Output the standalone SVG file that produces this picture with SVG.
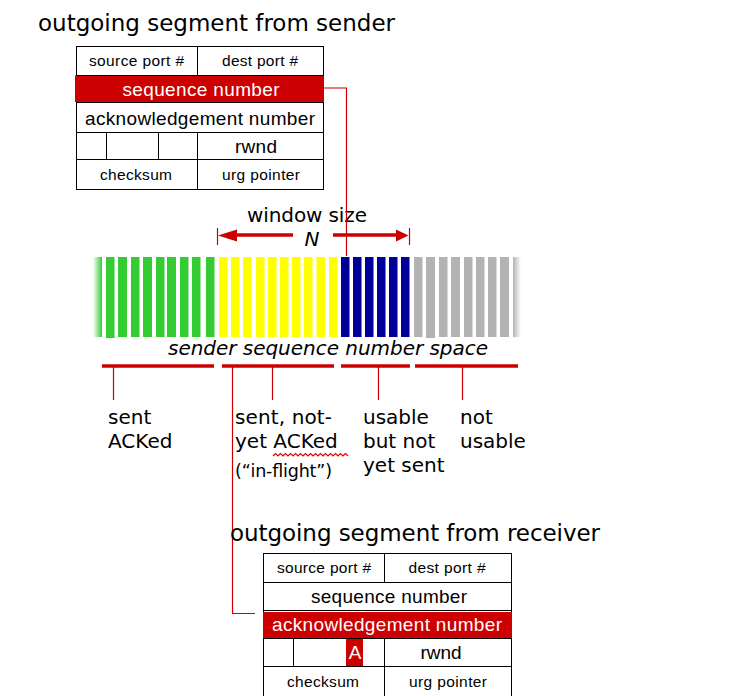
<svg xmlns="http://www.w3.org/2000/svg" width="754" height="696" viewBox="0 0 754 696">
<defs>
<style>
.title{font-family:"DejaVu Sans",sans-serif;font-size:23px;fill:#000}
.lbl{font-family:"DejaVu Sans",sans-serif;font-size:20px;fill:#000}
.tt{font-family:"Liberation Sans",Arial,sans-serif;fill:#000;text-anchor:middle}
.s{font-size:15.5px}
.b{font-size:19px}
.w{fill:#fff}
.cell{fill:#fff;stroke:#000;stroke-width:1}
.ln{stroke:#000;stroke-width:1;fill:none}
.red{fill:#cc0000}
.g{fill:#33cc33}.y{fill:#ffff00}.bl{fill:#000099}.gr{fill:#b3b3b3}
.thin{stroke:#cc0000;stroke-width:1.2;fill:none}
.thick{stroke:#cc0000;stroke-width:3.5;fill:none}
</style>
<linearGradient id="fadeL" x1="0" x2="1" y1="0" y2="0"><stop offset="0" stop-color="#33cc33" stop-opacity="0"/><stop offset="1" stop-color="#33cc33"/></linearGradient>
<linearGradient id="fadeR" x1="0" x2="1" y1="0" y2="0"><stop offset="0" stop-color="#b3b3b3"/><stop offset="1" stop-color="#b3b3b3" stop-opacity="0"/></linearGradient>
</defs>
<rect width="754" height="696" fill="#fff"/>

<g id="title-sender"><text class="title" x="38" y="31" textLength="357">outgoing segment from sender</text></g>

<g id="sender-segment">
<rect class="cell" x="76.5" y="46.5" width="247" height="143"/>
<rect class="red" x="75" y="75.5" width="249" height="26.5"/>
<line class="ln" x1="76" y1="75.5" x2="324" y2="75.5"/>
<line class="ln" x1="76" y1="102.5" x2="324" y2="102.5"/>
<line class="ln" x1="76" y1="132.5" x2="324" y2="132.5"/>
<line class="ln" x1="76" y1="159.5" x2="324" y2="159.5"/>
<line class="ln" x1="197.5" y1="46" x2="197.5" y2="75"/>
<line class="ln" x1="197.5" y1="132" x2="197.5" y2="190"/>
<line class="ln" x1="106.5" y1="132" x2="106.5" y2="159"/>
<line class="ln" x1="158.5" y1="132" x2="158.5" y2="159"/>
<text class="tt s" x="136.5" y="66" textLength="95">source port #</text>
<text class="tt s" x="260" y="66" textLength="76">dest port #</text>
<text class="tt b w" x="201" y="96" textLength="157">sequence number</text>
<text class="tt b" x="200" y="125" textLength="230">acknowledgement number</text>
<text class="tt b" x="256" y="153" textLength="42">rwnd</text>
<text class="tt s" x="136" y="180" textLength="72">checksum</text>
<text class="tt s" x="261" y="180" textLength="78">urg pointer</text>
</g>

<g id="window-size">
<text class="lbl" x="307" y="222" text-anchor="middle" textLength="120">window size</text>
<text class="lbl" x="312" y="246" text-anchor="middle" font-style="italic">N</text>
</g>

<g id="sequence-space">
<rect x="93" y="257" width="9" height="80" fill="url(#fadeL)"/>
<rect class="g" x="106" y="257" width="8.5" height="81"/>
<rect class="g" x="118" y="257" width="9" height="80"/>
<rect class="g" x="131" y="257" width="8.5" height="80"/>
<rect class="g" x="143" y="257" width="9" height="80"/>
<rect class="g" x="156" y="257" width="8.5" height="80"/>
<rect class="g" x="167" y="257" width="9" height="80"/>
<rect class="g" x="180" y="257" width="8.5" height="80"/>
<rect class="g" x="192" y="257" width="8.5" height="80"/>
<rect class="g" x="206" y="257" width="8.5" height="80"/>
<rect class="y" x="219" y="257" width="8.5" height="80"/>
<rect class="y" x="231" y="257" width="8.5" height="80"/>
<rect class="y" x="243" y="257" width="8.5" height="80"/>
<rect class="y" x="256" y="257" width="8.5" height="80"/>
<rect class="y" x="268" y="257" width="8.5" height="80"/>
<rect class="y" x="280" y="257" width="8.5" height="80"/>
<rect class="y" x="292" y="257" width="8.5" height="80"/>
<rect class="y" x="304" y="257" width="8.5" height="80"/>
<rect class="y" x="316.5" y="257" width="8.5" height="80"/>
<rect class="y" x="329" y="257" width="8.5" height="80"/>
<rect class="bl" x="341" y="257" width="8.5" height="80"/>
<rect class="bl" x="353" y="257" width="8.5" height="80"/>
<rect class="bl" x="365" y="257" width="8.5" height="80"/>
<rect class="bl" x="377" y="257" width="8.5" height="80"/>
<rect class="bl" x="389" y="257" width="8.5" height="80"/>
<rect class="bl" x="401" y="257" width="8.5" height="80"/>
<rect class="gr" x="414" y="257" width="8.5" height="80"/>
<rect class="gr" x="426" y="257" width="9" height="81"/>
<rect class="gr" x="439" y="257" width="8.5" height="80"/>
<rect class="gr" x="451" y="257" width="9" height="80"/>
<rect class="gr" x="464" y="257" width="8.5" height="80"/>
<rect class="gr" x="476" y="257" width="8.5" height="80"/>
<rect class="gr" x="488" y="257" width="8.5" height="80"/>
<rect class="gr" x="500" y="257" width="9" height="80"/>
<rect x="513" y="257" width="8" height="80" fill="url(#fadeR)"/>
<text class="lbl" x="168" y="355" font-style="italic" textLength="320">sender sequence number space</text>
</g>

<g id="connectors">
<line class="thin" x1="217.5" y1="228" x2="217.5" y2="245"/>
<line class="thin" x1="409.5" y1="228" x2="409.5" y2="245"/>
<line class="thick" x1="230" y1="235" x2="293" y2="235"/>
<polygon class="red" points="218,235.5 237,229.5 237,241.5"/>
<line class="thick" x1="333" y1="235" x2="398" y2="235"/>
<polygon class="red" points="408.5,235.5 396,229.5 396,241.5"/>
<polyline class="thin" points="324,88 346.5,88 346.5,256"/>
<line class="thick" x1="102" y1="366" x2="214" y2="366"/>
<line class="thick" x1="222" y1="366" x2="334" y2="366"/>
<line class="thick" x1="341" y1="366" x2="410" y2="366"/>
<line class="thick" x1="415" y1="366" x2="518" y2="366"/>
<line class="thin" x1="113.5" y1="367" x2="113.5" y2="400"/>
<line class="thin" x1="272.5" y1="367" x2="272.5" y2="400"/>
<line class="thin" x1="378.5" y1="367" x2="378.5" y2="400"/>
<line class="thin" x1="462.5" y1="367" x2="462.5" y2="400"/>
<polyline class="thin" points="232.5,367 232.5,613.5 255,613.5"/>
</g>

<g id="label-sent-acked">
<text class="lbl" x="108" y="424">sent</text>
<text class="lbl" x="108" y="448">ACKed</text>
</g>
<g id="label-in-flight">
<text class="lbl" x="235" y="424" textLength="97">sent, not-</text>
<text class="lbl" x="235" y="448">yet ACKed</text>
<path d="M273,456 l2.5,-2.5 l2.5,2.5 l2.5,-2.5 l2.5,2.5 l2.5,-2.5 l2.5,2.5 l2.5,-2.5 l2.5,2.5 l2.5,-2.5 l2.5,2.5 l2.5,-2.5 l2.5,2.5 l2.5,-2.5 l2.5,2.5 l2.5,-2.5 l2.5,2.5 l2.5,-2.5 l2.5,2.5 l2.5,-2.5 l2.5,2.5 l2.5,-2.5 l2.5,2.5 l2.5,-2.5 l2.5,2.5 l2.5,-2.5 l2.5,2.5 l2.5,-2.5 l2.5,2.5 l2.5,-2.5 l2.5,2.5" stroke="#e00000" stroke-width="1.2" fill="none"/>
<text class="lbl" x="235" y="477" style="font-size:17.5px" textLength="97">(“in-flight”)</text>
</g>
<g id="label-usable">
<text class="lbl" x="363" y="424">usable</text>
<text class="lbl" x="363" y="448">but not</text>
<text class="lbl" x="363" y="472">yet sent</text>
</g>
<g id="label-not-usable">
<text class="lbl" x="460" y="424">not</text>
<text class="lbl" x="460" y="448">usable</text>
</g>

<g id="title-receiver"><text class="title" x="230" y="541" textLength="370">outgoing segment from receiver</text></g>

<g id="receiver-segment">
<rect class="cell" x="263.5" y="553.5" width="248" height="145"/>
<line class="ln" x1="263" y1="582.5" x2="512" y2="582.5"/>
<line class="ln" x1="263" y1="610.5" x2="512" y2="610.5"/>
<rect class="red" x="263" y="612" width="249" height="26"/>
<line class="ln" x1="263" y1="638.5" x2="512" y2="638.5"/>
<line class="ln" x1="263" y1="666.5" x2="512" y2="666.5"/>
<line class="ln" x1="384.5" y1="553" x2="384.5" y2="582"/>
<line class="ln" x1="384.5" y1="638" x2="384.5" y2="696"/>
<line class="ln" x1="293.5" y1="638" x2="293.5" y2="666"/>
<rect class="red" x="346" y="639" width="17" height="27"/>
<text class="tt s" x="324" y="573" textLength="94">source port #</text>
<text class="tt s" x="447" y="573" textLength="77">dest port #</text>
<text class="tt b" x="389" y="603" textLength="156">sequence number</text>
<text class="tt b w" x="387" y="631" textLength="230">acknowledgement number</text>
<text class="tt b w" x="355" y="659">A</text>
<text class="tt b" x="441" y="659" textLength="41">rwnd</text>
<text class="tt s" x="323" y="687" textLength="72">checksum</text>
<text class="tt s" x="448" y="687" textLength="78">urg pointer</text>
</g>
</svg>
